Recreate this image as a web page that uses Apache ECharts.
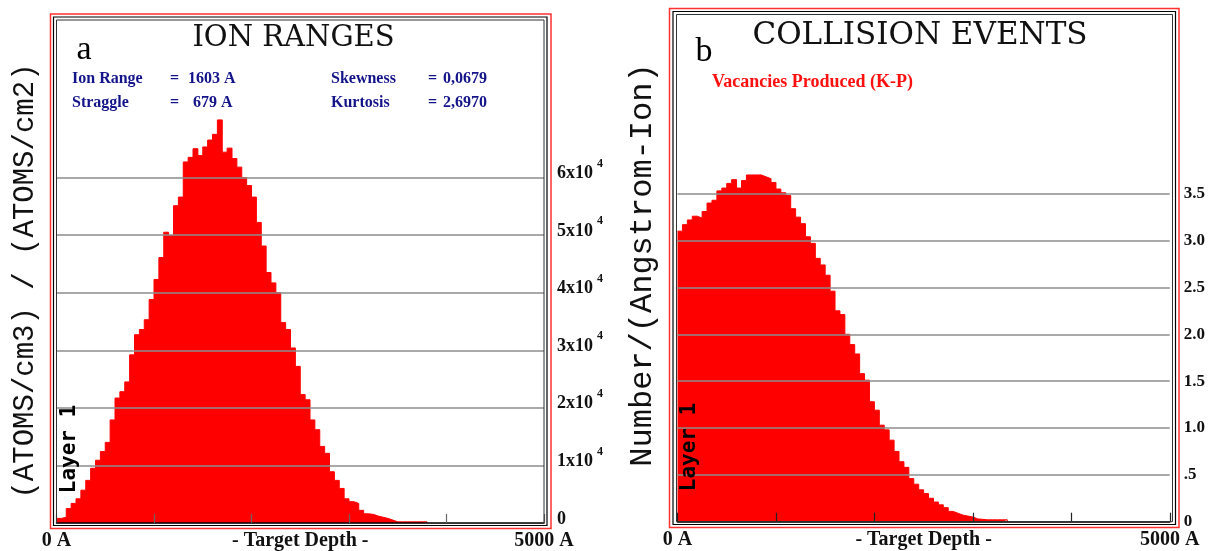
<!DOCTYPE html>
<html><head><meta charset="utf-8">
<script src="https://cdn.jsdelivr.net/npm/echarts@6/dist/echarts.min.js"></script>
<style>html,body{margin:0;padding:0;background:#fff}#c{width:1208px;height:551px}</style>
</head><body><div id="c"></div><script>
// ---- data ----
const binWidthA = 50; // Angstrom per histogram bin
// Ion ranges, (atoms/cm3)/(atoms/cm2), one value per 50 A bin starting at 0 A
const ionRangeValues = [800,1000,2500,3400,4200,5700,7400,9500,10900,12400,14000,17900,21700,22800,24500,29200,32700,33600,35300,38800,42300,46100,50500,49900,55100,56600,62700,63500,65000,63800,65300,66500,67500,70000,64400,65100,63300,61800,60000,58600,56600,52200,48100,43500,41700,40000,34800,33600,30400,27200,22300,21400,17900,16200,13300,12100,8900,7400,6000,4200,3700,3400,2200,1600,1500,1200,1000,800,500,200,200,200,200,200,200,200];
// Vacancies produced, number/(Angstrom-Ion), one value per 50 A bin
const vacancyValues = [3.10,3.17,3.22,3.26,3.24,3.31,3.40,3.43,3.53,3.56,3.61,3.65,3.56,3.64,3.70,3.70,3.70,3.68,3.66,3.62,3.55,3.51,3.48,3.34,3.25,3.18,3.04,2.97,2.81,2.74,2.63,2.46,2.25,2.21,2.00,1.89,1.79,1.58,1.51,1.28,1.19,1.03,0.98,0.87,0.75,0.64,0.58,0.46,0.40,0.34,0.30,0.25,0.21,0.18,0.15,0.11,0.09,0.07,0.06,0.05,0.03,0.025,0.02,0.02,0.02,0.02,0.02];
const depthTickValues = [0,1000,2000,3000,4000,5000];
const depthLabelValues = [0,2500,5000];
const depthLabelTexts = ['0 A','- Target Depth -','5000 A'];
const ionTickValues = [0,10000,20000,30000,40000,50000,60000];
const ionTickMantissa = ['0','1','2','3','4','5','6'];
const vacTickValues = [0,0.5,1.0,1.5,2.0,2.5,3.0,3.5];
const vacTickLabels = ['0','.5','1.0','1.5','2.0','2.5','3.0','3.5'];
const ionStatNames = ['Ion Range','Straggle','Skewness','Kurtosis'];
const ionStatValues = ['1603 A','679 A','0,0679','2,6970'];
const panelTitles = ['ION RANGES','COLLISION EVENTS'];
const panelLetters = ['a','b'];
const yNames = ['(ATOMS/cm3) / (ATOMS/cm2)','Number/(Angstrom-Ion)'];
const layerText = 'Layer 1';
const vacLegend = 'Vacancies Produced (K-P)';

// ---- helpers ----
function toSteps(vals){
  const pts = vals.map((v,i)=>[i*binWidthA, v]);
  pts.push([vals.length*binWidthA, 0]);
  return pts;
}
const serif = '"Liberation Serif", "Times New Roman", serif';
function xAxisCfg(gi, tickColor){
  return {
    type:'value', gridIndex:gi, min:0, max:5000, interval:1000, z:6,
    axisLine:{show:true, onZero:false, lineStyle:{color:'#000', width:1.5}},
    axisTick:{show:true, inside:true, length:9, customValues:depthTickValues, lineStyle:{color:tickColor, width:1.2}},
    axisLabel:{show:true, customValues:depthLabelValues, margin:8,
      formatter:v=>depthLabelTexts[depthLabelValues.indexOf(v)] || '',
      fontFamily:serif, fontWeight:'bold', fontSize:20, color:'#111'},
    splitLine:{show:false}
  };
}
function txt(x,y,text,font,fill,align,valign,rot){
  return {type:'text', x:x, y:y, rotation:rot||0, z:50,
    style:{text:text, font:font, fill:fill, textAlign:align||'left', align:align||'left',
      textVerticalAlign:valign||'middle', verticalAlign:valign||'middle'}};
}
function rect(x,y,w,h,color,lw){
  return {type:'rect', shape:{x:x,y:y,width:w,height:h}, z:40, silent:true,
    style:{fill:'none', stroke:color, lineWidth:lw}};
}

const chart = echarts.init(document.getElementById('c'), null, {renderer:'canvas'});
const statFont = 'bold 16px ' + serif;
const navy = '#14148a';
const option = {
  backgroundColor:'#fff',
  animation:false,
  grid:[
    {left:56.5, right:664, top:177.5, bottom:27.5},
    {left:677.5, right:37.5, top:193.7, bottom:29.3}
  ],
  xAxis:[xAxisCfg(0,'#666'), xAxisCfg(1,'#222')],
  yAxis:[
    {type:'value', gridIndex:0, position:'right', min:0, max:60000, interval:10000, z:5,
      axisLine:{show:false}, axisTick:{show:false},
      splitLine:{show:true, showMinLine:false, lineStyle:{color:'#8c8c8c', width:1.5}},
      axisLabel:{margin:13, padding:[0,0,15,0],
        formatter:v=>{const m = ionTickMantissa[ionTickValues.indexOf(v)]; return v===0 ? '{n|0}' : '{n|'+m+'x10}{s|4}';},
        rich:{
          n:{fontFamily:serif, fontWeight:'bold', fontSize:18, color:'#111', lineHeight:25, verticalAlign:'bottom'},
          s:{fontFamily:serif, fontWeight:'bold', fontSize:12, color:'#111', lineHeight:25, verticalAlign:'top', padding:[0,0,0,4]}
        }}},
    {type:'value', gridIndex:1, position:'right', min:0, max:3.5, interval:0.5, z:5,
      axisLine:{show:false}, axisTick:{show:false},
      splitLine:{show:true, showMinLine:false, lineStyle:{color:'#8c8c8c', width:1.5}},
      axisLabel:{margin:14, padding:[0,0,4,0],
        formatter:v=>vacTickLabels[vacTickValues.indexOf(v)] || '',
        fontFamily:serif, fontWeight:'bold', fontSize:17, color:'#111'}}
  ],
  series:[
    {type:'line', xAxisIndex:0, yAxisIndex:0, step:'end', symbol:'none', clip:false,
      data:toSteps(ionRangeValues), lineStyle:{color:'#ff0000', width:1}, areaStyle:{color:'#ff0000', opacity:1}},
    {type:'line', xAxisIndex:1, yAxisIndex:1, step:'end', symbol:'none', clip:false,
      data:toSteps(vacancyValues), lineStyle:{color:'#ff0000', width:1}, areaStyle:{color:'#ff0000', opacity:1}}
  ],
  graphic:{elements:[
    rect(50.5,14,500.5,514.5,'#ff3030',1.5),
    rect(53.5,17,493.5,508.5,'#000',1.2),
    rect(56.5,20,487.5,503.5,'#333',1),
    rect(669.5,8.5,509.5,519,'#ff3030',1.5),
    rect(673,11.5,502.5,513,'#000',1.2),
    rect(676.5,14.5,496,507.2,'#333',1),
    txt(293.5,38,panelTitles[0],'29px "DejaVu Serif", serif','#111','center'),
    txt(920,36,panelTitles[1],'31px "DejaVu Serif", serif','#111','center'),
    txt(84,50,panelLetters[0],'34px '+serif,'#000','center'),
    txt(704,52,panelLetters[1],'34px '+serif,'#000','center'),
    txt(72,79,ionStatNames[0],statFont,navy),
    txt(170,79,'=',statFont,navy),
    txt(188,79,ionStatValues[0],statFont,navy),
    txt(72,103,ionStatNames[1],statFont,navy),
    txt(170,103,'=',statFont,navy),
    txt(193,103,ionStatValues[1],statFont,navy),
    txt(331,79,ionStatNames[2],statFont,navy),
    txt(428,79,'=',statFont,navy),
    txt(443,79,ionStatValues[2],statFont,navy),
    txt(331,103,ionStatNames[3],statFont,navy),
    txt(428,103,'=',statFont,navy),
    txt(443,103,ionStatValues[3],statFont,navy),
    txt(712,82,vacLegend,'bold 18px '+serif,'#ff1010'),
    txt(25,281,yNames[0],'29px "Liberation Mono", monospace','#111','center','middle',Math.PI/2),
    txt(643,265,yNames[1],'32px "Liberation Mono", monospace','#111','center','middle',Math.PI/2),
    txt(69.5,449,layerText,'bold 21px "DejaVu Sans Mono", monospace','#000','center','middle',Math.PI/2),
    txt(690,447,layerText,'bold 21px "DejaVu Sans Mono", monospace','#000','center','middle',Math.PI/2)
  ]}
};
chart.setOption(option);
</script></body></html>
